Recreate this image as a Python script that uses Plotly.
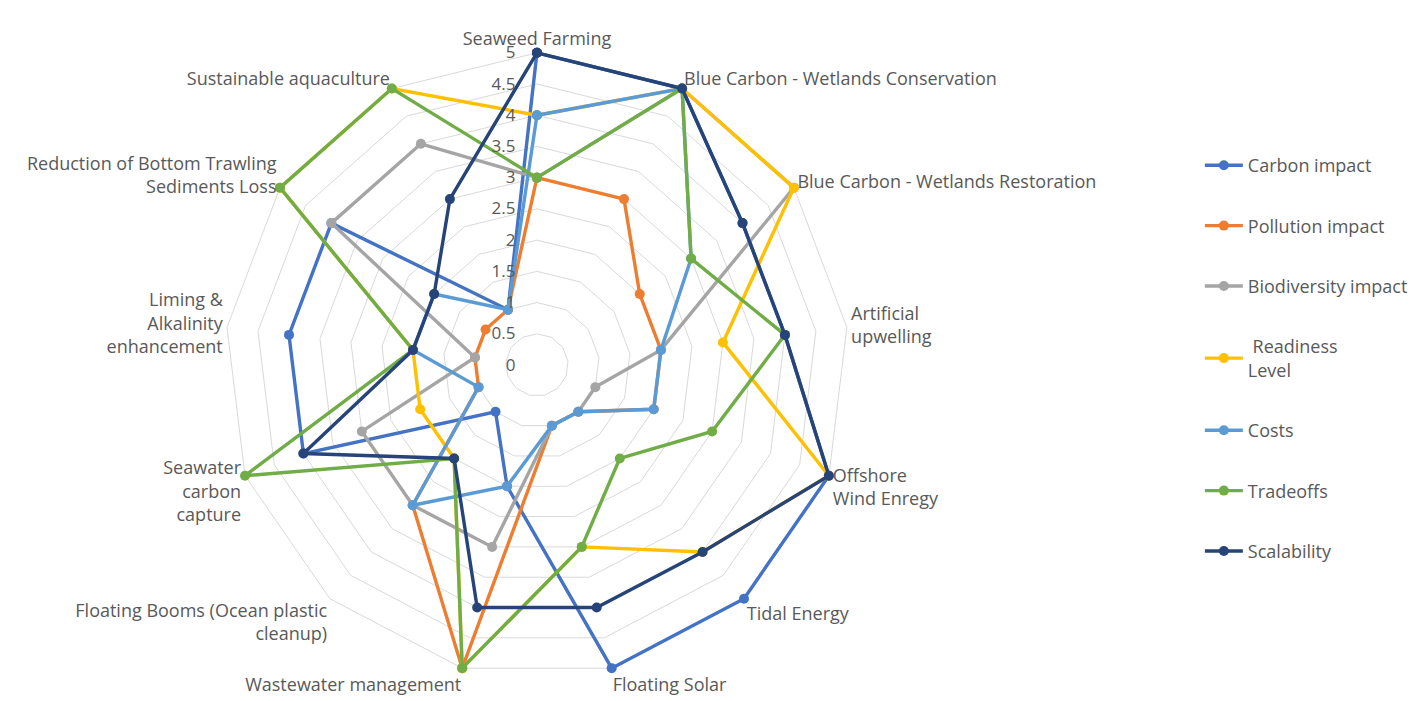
import plotly.graph_objects as go

categories = [
    "Seaweed Farming",
    "Blue Carbon - Wetlands Conservation",
    "Blue Carbon - Wetlands Restoration",
    "Artificial upwelling",
    "Offshore Wind Enregy",
    "Tidal Energy",
    "Floating Solar",
    "Wastewater management",
    "Floating Booms (Ocean plastic cleanup)",
    "Seawater carbon capture",
    "Liming & Alkalinity enhancement",
    "Reduction of Bottom Trawling Sediments Loss",
    "Sustainable aquaculture",
]
tick_labels = [
    "Seaweed Farming",
    "Blue Carbon - Wetlands Conservation",
    "Blue Carbon - Wetlands Restoration",
    "Artificial<br>upwelling",
    "Offshore<br>Wind Enregy",
    "Tidal Energy",
    "Floating Solar",
    "Wastewater management",
    "Floating Booms (Ocean plastic<br>cleanup)",
    "Seawater<br>carbon<br>capture",
    "Liming &<br>Alkalinity<br>enhancement",
    "Reduction of Bottom Trawling<br>Sediments Loss",
    "Sustainable aquaculture",
]

carbon_impact = [5, 5, 4, 4, 5, 5, 5, 2, 1, 4, 4, 4, 1]
pollution_impact = [3, 3, 2, 2, 2, 1, 1, 5, 3, 1, 1, 1, 1]
biodiversity_impact = [3, 5, 5, 2, 1, 1, 1, 3, 3, 3, 1, 4, 4]
readiness_level = [4, 5, 5, 3, 5, 4, 3, 5, 2, 2, 2, 5, 5]
costs = [4, 5, 3, 2, 2, 1, 1, 2, 3, 1, 2, 2, 1]
tradeoffs = [3, 5, 3, 4, 3, 2, 3, 5, 2, 5, 2, 5, 5]
scalability = [5, 5, 4, 4, 5, 4, 4, 4, 2, 4, 2, 2, 3]

series_names = ["Carbon impact", "Pollution impact", "Biodiversity impact",
                " Readiness<br>Level", "Costs", "Tradeoffs", "Scalability"]
series_values = [carbon_impact, pollution_impact, biodiversity_impact,
                 readiness_level, costs, tradeoffs, scalability]
series_colors = ["#4472C4", "#ED7D31", "#A5A5A5", "#FFC000",
                 "#5B9BD5", "#70AD47", "#264478"]

radial_ticks = [0, 0.5, 1, 1.5, 2, 2.5, 3, 3.5, 4, 4.5, 5]

FONT = "Open Sans"
TEXT = "#595959"
GRID = "#D9D9D9"

# geometry of the polar area (pixels)
W, H = 1413, 701
CX, CY, R5 = 540, 365, 314
RMAX = 5.06
RFULL = R5 * RMAX / 5

fig = go.Figure()
for name, vals, col in zip(series_names, series_values, series_colors):
    fig.add_trace(go.Scatterpolar(
        r=vals + vals[:1],
        theta=categories + categories[:1],
        mode="lines+markers",
        name=name,
        legendgroup=name,
        cliponaxis=False,
        line=dict(color=col, width=3.4),
        marker=dict(color=col, size=10),
    ))

fig.update_layout(
    width=W, height=H,
    margin=dict(l=0, r=0, t=0, b=0),
    paper_bgcolor="white",
    font=dict(family=FONT, size=18, color=TEXT),
    polar=dict(
        domain=dict(x=[(CX - RFULL) / W, (CX + RFULL) / W],
                    y=[1 - (CY + RFULL) / H, 1 - (CY - RFULL) / H]),
        bgcolor="white",
        gridshape="linear",
        angularaxis=dict(
            direction="clockwise",
            rotation=90,
            tickmode="array",
            tickvals=categories,
            ticktext=tick_labels,
            showgrid=False,
            showline=False,
            ticks="",
            tickfont=dict(family=FONT, size=18, color=TEXT),
        ),
        radialaxis=dict(
            range=[0, RMAX],
            tickvals=radial_ticks,
            ticktext=[f"{v:g}" for v in radial_ticks],
            angle=90,
            tickangle=90,
            side="counterclockwise",
            showline=False,
            ticks="outside",
            ticklen=15,
            tickcolor="rgba(0,0,0,0)",
            gridcolor=GRID,
            gridwidth=1,
            tickfont=dict(family=FONT, size=17, color=TEXT),
        ),
    ),
    legend=dict(
        x=0.854, xanchor="left",
        y=1 - 147 / H, yanchor="top",
        font=dict(family=FONT, size=18, color=TEXT),
        tracegroupgap=34,
        itemwidth=38,
        bgcolor="rgba(0,0,0,0)",
    ),
)

fig.write_html("out.html")
